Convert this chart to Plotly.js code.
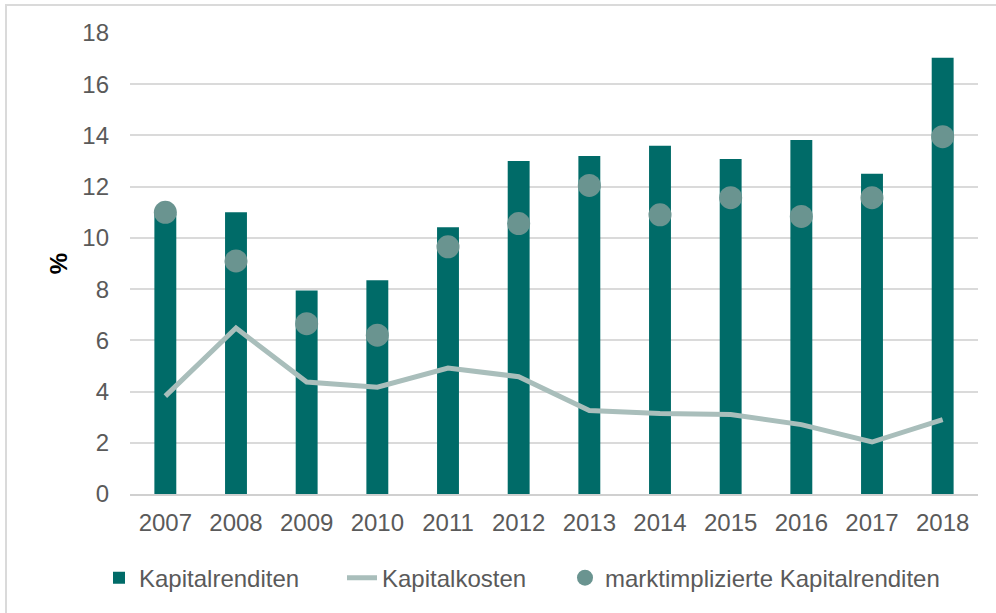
<!DOCTYPE html>
<html>
<head>
<meta charset="utf-8">
<script src="https://cdn.plot.ly/plotly-3.0.1.min.js"></script>
<style>
  html, body { margin: 0; padding: 0; background: #fff; }
  #chart { width: 996px; height: 613px; position: absolute; left: 0; top: 0; }
  #frame { position: absolute; left: 5px; top: 4px; width: 1000px; height: 700px;
           border-left: 2px solid #dadada; border-top: 2px solid #dadada; pointer-events: none; }
</style>
</head>
<body>
<div id="chart"></div>
<div id="frame"></div>
<script>
const years = ['2007','2008','2009','2010','2011','2012','2013','2014','2015','2016','2017','2018'];
const kapitalrenditen = [10.95, 11.0, 7.95, 8.35, 10.42, 13.0, 13.2, 13.6, 13.08, 13.82, 12.5, 17.03];
const kapitalkosten = [3.82, 6.48, 4.37, 4.17, 4.92, 4.58, 3.26, 3.14, 3.1, 2.71, 2.03, 2.9];
const marktimpliziert = [11.0, 9.1, 6.65, 6.2, 9.65, 10.56, 12.05, 10.9, 11.57, 10.84, 11.57, 13.95];
const yTicks = [0, 2, 4, 6, 8, 10, 12, 14, 16, 18];

const font = 'Liberation Sans, Arial, sans-serif';
const textColor = '#5a5a5a';

const traces = [
  {
    type: 'bar', name: 'Kapitalrenditen', x: years, y: kapitalrenditen,
    marker: { color: '#006b68' }, hoverinfo: 'skip', legend: 'legend'
  },
  {
    type: 'scatter', mode: 'lines', name: 'Kapitalkosten', x: years, y: kapitalkosten,
    line: { color: '#a9bebb', width: 5 }, hoverinfo: 'skip', legend: 'legend2'
  },
  {
    type: 'scatter', mode: 'markers', name: 'marktimplizierte Kapitalrenditen', x: years, y: marktimpliziert,
    marker: { color: '#6a9490', size: 23 }, hoverinfo: 'skip', legend: 'legend3'
  }
];

function legendAt(px) {
  return {
    orientation: 'h', x: px / 996, xanchor: 'left', xref: 'container',
    y: 0.057, yanchor: 'middle', yref: 'container',
    font: { family: font, size: 24, color: textColor },
    bgcolor: 'rgba(0,0,0,0)', itemsizing: 'trace'
  };
}

const layout = {
  width: 996, height: 613,
  margin: { l: 130, r: 18, t: 33, b: 119 },
  paper_bgcolor: '#ffffff', plot_bgcolor: '#ffffff',
  font: { family: font, size: 24, color: textColor },
  bargap: 0.69,
  showlegend: true,
  legend: legendAt(99),
  legend2: legendAt(342),
  legend3: legendAt(565),
  xaxis: {
    type: 'category', range: [-0.5, 11.5], autorange: false, automargin: false,
    showgrid: false, zeroline: false,
    showline: true, linecolor: '#d0d0d0', linewidth: 2,
    ticks: '', ticklabelstandoff: 6,
    tickfont: { family: font, size: 24, color: textColor }
  },
  yaxis: {
    range: [0, 18], autorange: false, automargin: false,
    tickvals: yTicks, ticktext: yTicks.map(String),
    showgrid: true, gridcolor: '#dadada', gridwidth: 2,
    zeroline: false, showline: false, ticks: '', ticklabelstandoff: 20,
    tickfont: { family: font, size: 24, color: textColor },
    title: { text: '<b>%</b>', font: { family: font, size: 24, color: '#000000' }, standoff: 7 }
  }
};

Plotly.newPlot('chart', traces, layout, { staticPlot: true, displayModeBar: false });
</script>
</body>
</html>
